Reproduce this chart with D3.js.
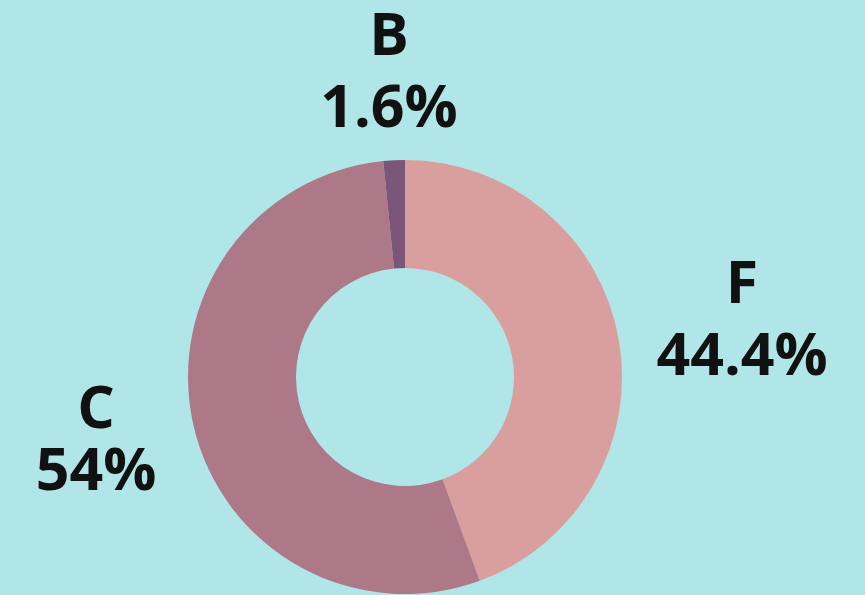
<!DOCTYPE html>
<html>
<head>
<meta charset="utf-8">
<script src="https://cdn.jsdelivr.net/npm/d3@7"></script>
<style>
  html, body { margin: 0; padding: 0; background: #b0e6e7; }
  svg { display: block; }
</style>
</head>
<body>
<div id="chart"></div>
<script>
const categories = ["F", "C", "B"];
const values = [44.4, 54, 1.6];
const valueLabels = ["44.4%", "54%", "1.6%"];
const colors = ["#d99f9e", "#ad7988", "#7b5678"];
// label anchor points (centre x, baseline of first line)
const labelPos = [[742, 303], [96, 428], [389, 55]];

const width = 865, height = 595;
const cx = 405, cy = 377;
const outerR = 217, innerR = 109;

const svg = d3.select("div#chart")
  .append("svg")
  .attr("width", width)
  .attr("height", height);

svg.append("rect")
  .attr("width", width)
  .attr("height", height)
  .attr("fill", "#b0e6e7");

const pie = d3.pie().sort(null).value(d => d)(values);
const arc = d3.arc().innerRadius(innerR).outerRadius(outerR);

svg.append("g")
  .attr("transform", `translate(${cx},${cy})`)
  .selectAll("path")
  .data(pie)
  .enter().append("path")
  .attr("d", arc)
  .attr("fill", (d, i) => colors[i]);

const labels = svg.append("g")
  .selectAll("text")
  .data(categories)
  .enter().append("text")
  .attr("x", (d, i) => labelPos[i][0])
  .attr("y", (d, i) => labelPos[i][1])
  .attr("text-anchor", "middle")
  .attr("font-family", "'Open Sans', 'Noto Sans', sans-serif")
  .attr("font-weight", "bold")
  .attr("font-size", "59px")
  .attr("fill", "#111");

labels.append("tspan")
  .attr("x", (d, i) => labelPos[i][0])
  .text(d => d);

labels.append("tspan")
  .attr("x", (d, i) => labelPos[i][0])
  .attr("dy", (d, i) => i === 1 ? 62 : 72)
  .text((d, i) => valueLabels[i]);
</script>
</body>
</html>
